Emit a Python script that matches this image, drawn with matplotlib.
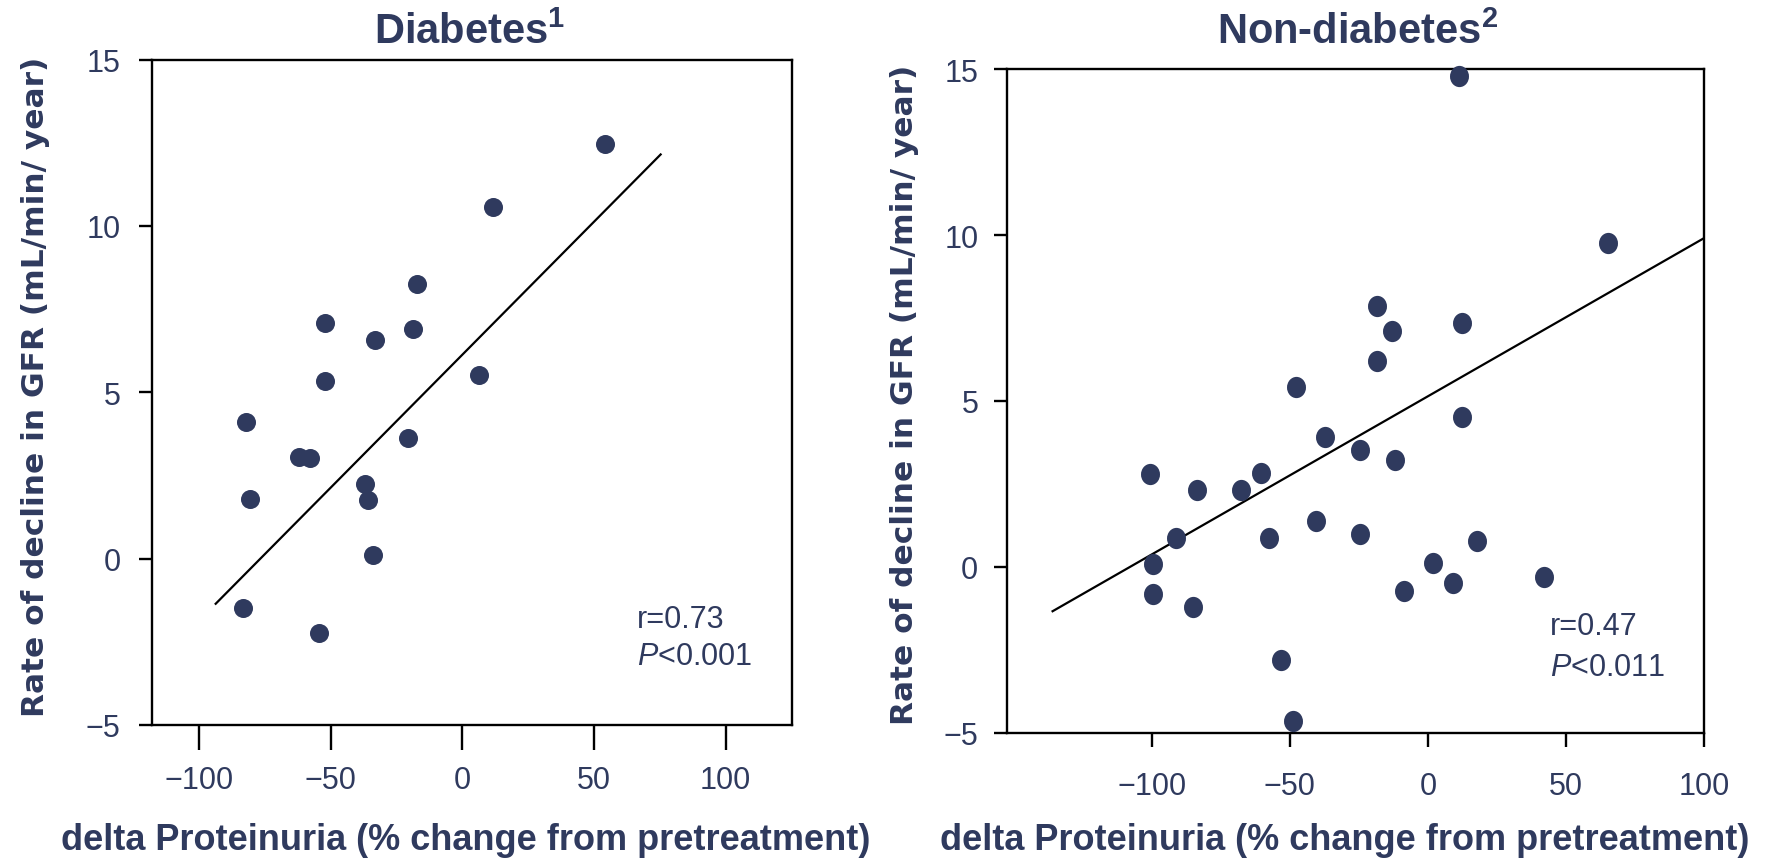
import numpy as np
import matplotlib.pyplot as plt
from matplotlib.path import Path

plt.rcParams['font.family'] = 'Liberation Sans'
plt.rcParams['mathtext.fontset'] = 'custom'
plt.rcParams['mathtext.rm'] = 'Liberation Sans'
plt.rcParams['mathtext.it'] = 'Liberation Sans:italic'
plt.rcParams['mathtext.bf'] = 'Liberation Sans:bold'

NAVY = '#2f3a5e'

# Diabetes panel
diab_x = [54.1, 11.5, -17.4, -52.0, -18.9, -33.1, -52.0, 6.2, -82.1,
          -62.1, -57.7, -20.6, -36.8, -36.0, -80.6, -34.1, -83.4, -54.6]
diab_y = [12.45, 10.58, 8.25, 7.09, 6.90, 6.58, 5.34, 5.52, 4.12,
          3.06, 3.03, 3.63, 2.24, 1.77, 1.78, 0.11, -1.48, -2.24]
diab_fit_slope = 0.0799
diab_fit_intercept = 6.13
diab_fit_x = [-93.7, 75.3]

# Non-diabetes panel
nondiab_x = [11.4, 65.2, -18.3, -12.9, 12.3, -18.3, -47.8, 12.3, -37.3, -24.4,
             -11.9, -100.5, -60.5, -83.7, -67.8, -40.6, -24.6, -91.2, -57.4, 17.7,
             -99.7, 1.8, -99.7, -8.8, 9.2, 42.0, -85.0, -53.2, -49.0]
nondiab_y = [14.79, 9.76, 7.85, 7.12, 7.34, 6.22, 5.41, 4.52, 3.92, 3.52,
             3.22, 2.80, 2.82, 2.30, 2.30, 1.39, 1.00, 0.88, 0.88, 0.78,
             0.08, 0.10, -0.83, -0.72, -0.50, -0.31, -1.21, -2.82, -4.65]
nondiab_fit_slope = 0.0477
nondiab_fit_intercept = 5.14
nondiab_fit_x = [-135.9, 100.0]

x_ticks = [-100, -50, 0, 50, 100]
y_ticks = [-5, 0, 5, 10, 15]

ylabel = 'Rate of decline in GFR (mL/min/ year)'
xlabel = 'delta Proteinuria (% change from pretreatment)'

fig = plt.figure(figsize=(17.71, 8.62), dpi=100)
W, H = 1771, 862

ax1 = fig.add_axes([151.7 / W, 1 - 726 / H, 640.6 / W, 665.5 / H])
ax2 = fig.add_axes([1007.3 / W, 1 - 733.5 / H, 696.7 / W, 663.1 / H])

circ = Path.unit_circle()
ellipse = Path(circ.vertices * np.array([1.0, 1.12]), circ.codes)


def style_axes(ax, xlim, xtick_len, xpad, ypad):
    ax.set_xlim(*xlim)
    ax.set_ylim(-5, 15)
    ax.set_xticks(x_ticks)
    ax.set_yticks(y_ticks)
    for s in ax.spines.values():
        s.set_linewidth(1.7)
        s.set_color('black')
    ax.tick_params(axis='x', length=xtick_len, width=1.7, pad=xpad,
                   labelsize=22, labelcolor=NAVY)
    ax.tick_params(axis='y', length=9.4, width=1.7, pad=ypad,
                   labelsize=22, labelcolor=NAVY)


# left panel
fx = np.array(diab_fit_x)
ax1.plot(fx, diab_fit_slope * fx + diab_fit_intercept, color='black', lw=1.6, zorder=2)
ax1.plot(diab_x, diab_y, linestyle='none', marker='o', ms=13.7,
         mfc=NAVY, mec=NAVY, mew=0, zorder=3, clip_on=False)
style_axes(ax1, (-118, 125.3), 18, 11, 13)
ax1.text(0.757, 0.159, 'r=0.73', transform=ax1.transAxes, fontsize=22,
         color=NAVY, ha='left', va='center')
ax1.text(0.757, 0.104, '$P$<0.001', transform=ax1.transAxes, fontsize=22,
         color=NAVY, ha='left', va='center')

# right panel
fx = np.array(nondiab_fit_x)
ax2.plot(fx, nondiab_fit_slope * fx + nondiab_fit_intercept, color='black', lw=1.6, zorder=2)
ax2.plot(nondiab_x, nondiab_y, linestyle='none', marker=ellipse, ms=15.3,
         mfc=NAVY, mec=NAVY, mew=0, zorder=3, clip_on=False)
style_axes(ax2, (-152.3, 100), 10, 18, 11.5)
ax2.text(0.779, 0.161, 'r=0.47', transform=ax2.transAxes, fontsize=22,
         color=NAVY, ha='left', va='center')
ax2.text(0.779, 0.099, '$P$<0.011', transform=ax2.transAxes, fontsize=22,
         color=NAVY, ha='left', va='center')

# titles and axis labels
fig.text(470 / W, 1 - 44 / H, r'Diabetes$^{\mathbf{1}}$', ha='center', va='baseline',
         fontsize=30, fontweight='bold', color=NAVY)
fig.text(1358 / W, 1 - 44 / H, r'Non-diabetes$^{\mathbf{2}}$', ha='center', va='baseline',
         fontsize=30, fontweight='bold', color=NAVY)

for xc, yc in [(36, 387), (904, 395)]:
    fig.text(xc / W, 1 - yc / H, ylabel, rotation=90, ha='center', va='center',
             fontsize=22.5, fontweight='bold', color=NAVY, family='DejaVu Sans')
for xc in [466, 1345]:
    fig.text(xc / W, 1 - 841 / H, xlabel, ha='center', va='center',
             fontsize=26, fontweight='bold', color=NAVY)

fig.savefig('out.png', dpi=100)
